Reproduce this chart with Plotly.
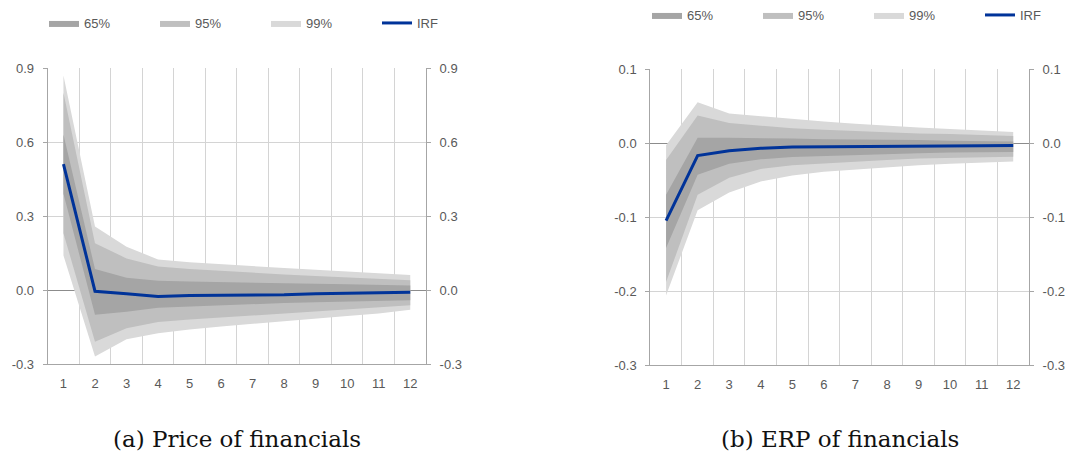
import plotly.graph_objects as go

# ---------------- data ----------------
horizons = [1, 2, 3, 4, 5, 6, 7, 8, 9, 10, 11, 12]
tick_labels = [str(h) for h in horizons]

# (a) Price of financials
a_irf = [0.51, -0.005, -0.015, -0.026, -0.022, -0.022, -0.020, -0.019, -0.015, -0.013, -0.012, -0.009]
a_99_hi = [0.87, 0.257, 0.175, 0.124, 0.113, 0.104, 0.097, 0.089, 0.082, 0.075, 0.068, 0.061]
a_95_hi = [0.80, 0.19, 0.128, 0.095, 0.085, 0.077, 0.070, 0.063, 0.057, 0.051, 0.045, 0.040]
a_65_hi = [0.63, 0.085, 0.050, 0.038, 0.034, 0.031, 0.029, 0.027, 0.025, 0.023, 0.021, 0.018]
a_65_lo = [0.39, -0.10, -0.088, -0.072, -0.066, -0.061, -0.057, -0.053, -0.050, -0.047, -0.044, -0.042]
a_95_lo = [0.23, -0.21, -0.155, -0.13, -0.12, -0.11, -0.102, -0.094, -0.086, -0.078, -0.070, -0.062]
a_99_lo = [0.14, -0.27, -0.20, -0.175, -0.16, -0.148, -0.136, -0.125, -0.115, -0.105, -0.095, -0.080]

# (b) ERP of financials
b_irf = [-0.105, -0.017, -0.0104, -0.0072, -0.0054, -0.005, -0.0045, -0.0045, -0.0045, -0.0036, -0.0036, -0.0035]
b_99_hi = [-0.003, 0.055, 0.040, 0.036, 0.032, 0.029, 0.026, 0.023, 0.021, 0.019, 0.017, 0.015]
b_95_hi = [-0.023, 0.037, 0.027, 0.023, 0.020, 0.018, 0.016, 0.014, 0.013, 0.012, 0.0105, 0.0095]
b_65_hi = [-0.070, 0.007, 0.007, 0.007, 0.006, 0.005, 0.005, 0.004, 0.004, 0.003, 0.003, 0.002]
b_65_lo = [-0.142, -0.043, -0.028, -0.022, -0.019, -0.017, -0.016, -0.015, -0.014, -0.013, -0.012, -0.012]
b_95_lo = [-0.188, -0.070, -0.047, -0.035, -0.030, -0.027, -0.025, -0.023, -0.021, -0.020, -0.019, -0.0185]
b_99_lo = [-0.206, -0.091, -0.067, -0.052, -0.044, -0.039, -0.036, -0.033, -0.030, -0.028, -0.026, -0.025]

a_yticks = [-0.3, 0.0, 0.3, 0.6, 0.9]
b_yticks = [-0.3, -0.2, -0.1, 0.0, 0.1]

band_names = ["99%", "95%", "65%"]
band_ranks = [3, 2, 1]
band_colors = ["#d9d9d9", "#bfbfbf", "#a5a5a5"]
irf_color = "#003399"
captions = ["(a) Price of financials", "(b) ERP of financials"]

# ---------------- figure ----------------
fig = go.Figure()
tick_font = dict(family="Liberation Sans, Arial", size=13, color="#595959")


def add_panel(xa, ya, legend, his, los, irf):
    # draw lightest band first
    for name, rank, col, hi, lo in zip(band_names, band_ranks, band_colors, his, los):
        fig.add_trace(go.Scatter(
            x=horizons + horizons[::-1], y=hi + lo[::-1],
            fill="toself", fillcolor=col, mode="lines",
            line=dict(width=0, color=col), name=name, legendrank=rank,
            xaxis=xa, yaxis=ya, legend=legend, hoverinfo="skip"))
    fig.add_trace(go.Scatter(
        x=horizons, y=irf, mode="lines", name="IRF", legendrank=4,
        line=dict(color=irf_color, width=3),
        xaxis=xa, yaxis=ya, legend=legend))


add_panel("x", "y", "legend",
          [a_99_hi, a_95_hi, a_65_hi], [a_99_lo, a_95_lo, a_65_lo], a_irf)
add_panel("x2", "y2", "legend2",
          [b_99_hi, b_95_hi, b_65_hi], [b_99_lo, b_95_lo, b_65_lo], b_irf)

W, H = 1070, 454
A_X = [47.7 / W, 426 / W]
B_X = [650.3 / W, 1029 / W]
A_Y = [1 - 364 / H, 1 - 68 / H]
B_Y = [1 - 365 / H, 1 - 69 / H]


def xaxis(domain, anchor):
    return dict(domain=domain, anchor=anchor, range=[0.5, 12.5],
                tickvals=horizons, ticktext=tick_labels, showgrid=False,
                ticks="", ticklabelstandoff=7, tickfont=tick_font,
                showline=True, linecolor="#a6a6a6", linewidth=1,
                zeroline=False, fixedrange=True,
                minor=dict(tick0=0.5, dtick=1, showgrid=True,
                           gridcolor="#d4d4d4", gridwidth=1, ticks=""))


def yaxis(domain, anchor, rng, tv, side="left", overlay=None):
    d = dict(domain=domain, anchor=anchor, range=rng, tickvals=tv,
             ticktext=[f"{v:.1f}" for v in tv], tickfont=tick_font,
             showgrid=True, gridcolor="#d4d4d4", gridwidth=1,
             zeroline=True, zerolinecolor="#8c8c8c", zerolinewidth=1,
             showline=True, linecolor="#a6a6a6", linewidth=1,
             ticks="outside", ticklen=4, tickcolor="#a6a6a6",
             ticklabelstandoff=6, side=side, fixedrange=True)
    if overlay:
        d.update(overlaying=overlay, showgrid=False, zeroline=False)
    return d


legend_common = dict(orientation="h", xanchor="left", yanchor="middle",
                     entrywidth=66, entrywidthmode="pixels", itemwidth=30,
                     font=tick_font, traceorder="normal", bgcolor="rgba(0,0,0,0)")

fig.update_layout(
    width=W, height=H,
    margin=dict(l=0, r=0, t=0, b=0, autoexpand=False),
    paper_bgcolor="white", plot_bgcolor="white",
    xaxis=xaxis(A_X, "y"),
    yaxis=yaxis(A_Y, "x", [-0.3, 0.9], a_yticks),
    yaxis3=yaxis(A_Y, "x", [-0.3, 0.9], a_yticks, side="right", overlay="y"),
    xaxis2=xaxis(B_X, "y2"),
    yaxis2=yaxis(B_Y, "x2", [-0.3, 0.1], b_yticks),
    yaxis4=yaxis(B_Y, "x2", [-0.3, 0.1], b_yticks, side="right", overlay="y2"),
    legend=dict(x=44 / W, y=1 - 23 / H, **legend_common),
    legend2=dict(x=647 / W, y=1 - 15 / H, **legend_common),
    showlegend=True,
)

# invisible traces so the right-hand axes are drawn
fig.add_trace(go.Scatter(x=[horizons[0]], y=[a_yticks[0]], xaxis="x", yaxis="y3",
                         mode="markers", marker=dict(opacity=0), showlegend=False, hoverinfo="skip"))
fig.add_trace(go.Scatter(x=[horizons[0]], y=[b_yticks[0]], xaxis="x2", yaxis="y4",
                         mode="markers", marker=dict(opacity=0), showlegend=False, hoverinfo="skip"))

for cx, text in zip([(A_X[0] + A_X[1]) / 2, (B_X[0] + B_X[1]) / 2], captions):
    fig.add_annotation(text=text, x=cx, y=1 - 439 / H, xref="paper", yref="paper",
                       xanchor="center", yanchor="middle", showarrow=False,
                       font=dict(family="DejaVu Serif, Liberation Serif", size=23, color="#111111"))

fig.write_html("out.html", config={"displayModeBar": False},
               post_script="document.body.style.margin='0';document.body.style.overflow='hidden';")
